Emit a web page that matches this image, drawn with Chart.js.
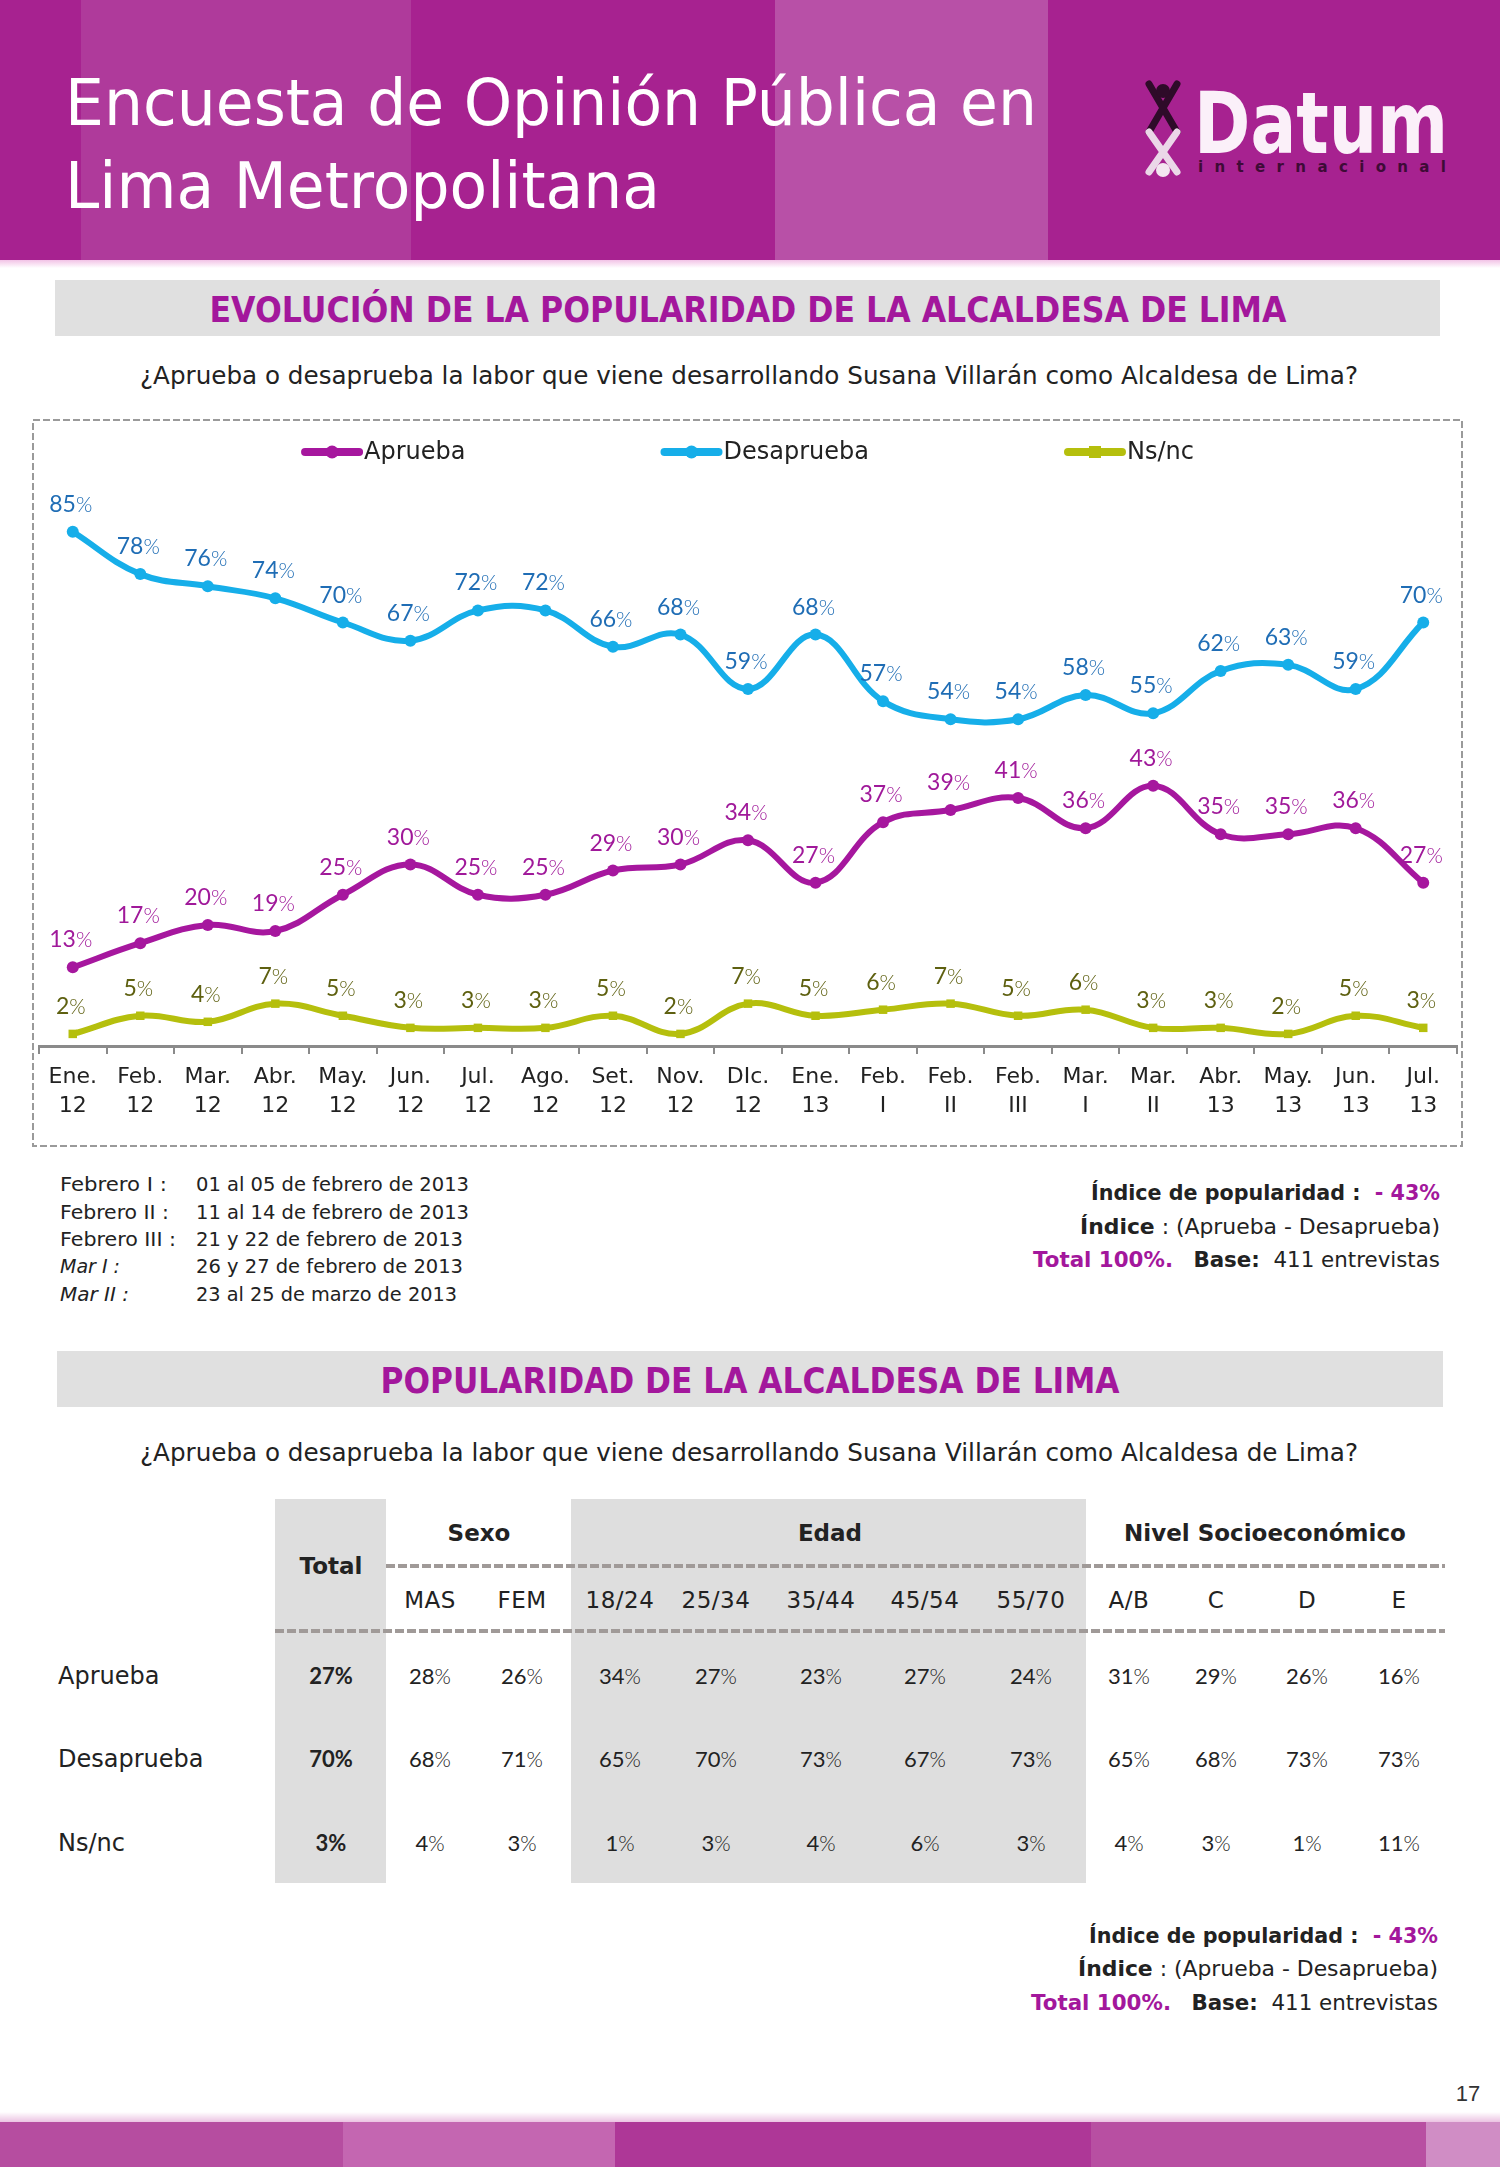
<!DOCTYPE html>
<html><head><meta charset="utf-8">
<script src="https://cdn.jsdelivr.net/npm/chart.js@4.4.1/dist/chart.umd.min.js"></script>
<style>
html,body{margin:0;padding:0;background:#fff;}
#page{position:relative;width:1500px;height:2167px;overflow:hidden;background:#fff;}
#deco{position:absolute;left:0;top:0;}
#chart{position:absolute;left:32px;top:419px;}
svg text{white-space:pre;}
</style></head><body>
<div id="page">
<svg id="deco" width="1500" height="2167" xmlns="http://www.w3.org/2000/svg" font-family="DejaVu Sans">
  <defs>
    <linearGradient id="hfade" x1="0" y1="0" x2="0" y2="1">
      <stop offset="0" stop-color="#F2C3E6"/><stop offset="1" stop-color="#FFFFFF"/>
    </linearGradient>
    <linearGradient id="bfade" x1="0" y1="0" x2="0" y2="1">
      <stop offset="0" stop-color="#FFFFFF"/><stop offset="1" stop-color="#EBC3E2"/>
    </linearGradient>
  </defs>
  <!-- header -->
  <rect x="0" y="0" width="1500" height="260" fill="#A72290"/>
  <rect x="81" y="0" width="330" height="260" fill="#AF3A9B"/>
  <rect x="775" y="0" width="273" height="260" fill="#B850A7"/>
  <rect x="0" y="260" width="1500" height="8" fill="url(#hfade)"/>
  <text x="65" y="125" font-size="64" fill="#FFFFFF" textLength="972" lengthAdjust="spacingAndGlyphs">Encuesta de Opinión Pública en</text>
  <text x="65" y="208" font-size="64" fill="#FFFFFF" textLength="595" lengthAdjust="spacingAndGlyphs">Lima Metropolitana</text>
  <!-- logo -->
  <g>
    <path d="M1149,84 Q1163,108 1177,132 M1177,84 Q1163,108 1149,132" stroke="#2E0B29" stroke-width="7" fill="none" stroke-linecap="round"/>
    <circle cx="1163" cy="91" r="7" fill="#2E0B29"/>
    <path d="M1149,132 Q1163,152 1177,172 M1177,132 Q1163,152 1149,172" stroke="#EBD7E8" stroke-width="7" fill="none" stroke-linecap="round"/>
    <circle cx="1163" cy="170" r="7" fill="#F3E6F0"/>
    <text x="1194" y="153" font-size="86" font-weight="bold" fill="#FBF0F9" textLength="254" lengthAdjust="spacingAndGlyphs">Datum</text>
    <text x="1198" y="172" font-size="15" font-weight="bold" fill="#3E0B36" textLength="248" lengthAdjust="spacing">internacional</text>
  </g>

  <!-- section 1 -->
  <rect x="55" y="280" width="1385" height="56" fill="#E0E0E0"/>
  <text x="748" y="322" text-anchor="middle" font-size="35" font-weight="bold" fill="#A3179C" textLength="1077" lengthAdjust="spacingAndGlyphs">EVOLUCIÓN DE LA POPULARIDAD DE LA ALCALDESA DE LIMA</text>
  <text x="749" y="384" text-anchor="middle" font-size="25" fill="#222222" textLength="1218" lengthAdjust="spacingAndGlyphs">¿Aprueba o desaprueba la labor que viene desarrollando Susana Villarán como Alcaldesa de Lima?</text>

  <!-- chart box -->
  <rect x="33" y="420" width="1429" height="726" fill="none" stroke="#9A9A9A" stroke-width="2" stroke-dasharray="7 3"/>

  <!-- footnotes -->
  <g font-size="20" fill="#222222">
    <text x="60" y="1191" textLength="107" lengthAdjust="spacingAndGlyphs">Febrero I :</text><text x="196" y="1191" textLength="273" lengthAdjust="spacingAndGlyphs">01 al 05 de febrero de 2013</text>
    <text x="60" y="1219" textLength="109" lengthAdjust="spacingAndGlyphs">Febrero II :</text><text x="196" y="1219" textLength="273" lengthAdjust="spacingAndGlyphs">11 al 14 de febrero de 2013</text>
    <text x="60" y="1246" textLength="116" lengthAdjust="spacingAndGlyphs">Febrero III :</text><text x="196" y="1246" textLength="267" lengthAdjust="spacingAndGlyphs">21 y 22 de febrero de 2013</text>
    <text x="60" y="1273" font-style="italic" textLength="60" lengthAdjust="spacingAndGlyphs">Mar I :</text><text x="196" y="1273" textLength="267" lengthAdjust="spacingAndGlyphs">26 y 27 de febrero de 2013</text>
    <text x="60" y="1301" font-style="italic" textLength="69" lengthAdjust="spacingAndGlyphs">Mar II :</text><text x="196" y="1301" textLength="261" lengthAdjust="spacingAndGlyphs">23 al 25 de marzo de 2013</text>
  </g>
  <g font-size="21" fill="#222222" text-anchor="end">
    <text x="1440" y="1200" textLength="349" lengthAdjust="spacingAndGlyphs"><tspan font-weight="bold">Índice de popularidad :  </tspan><tspan font-weight="bold" fill="#A3179C">- 43%</tspan></text>
    <text x="1440" y="1234" textLength="360" lengthAdjust="spacingAndGlyphs"><tspan font-weight="bold">Índice</tspan> : (Aprueba - Desaprueba)</text>
    <text x="1440" y="1267" textLength="407" lengthAdjust="spacingAndGlyphs"><tspan font-weight="bold" fill="#A3179C">Total 100%.</tspan>   <tspan font-weight="bold">Base:</tspan>  411 entrevistas</text>
  </g>

  <!-- section 2 -->
  <rect x="57" y="1351" width="1386" height="56" fill="#E0E0E0"/>
  <text x="750" y="1393" text-anchor="middle" font-size="35" font-weight="bold" fill="#A3179C" textLength="739" lengthAdjust="spacingAndGlyphs">POPULARIDAD DE LA ALCALDESA DE LIMA</text>
  <text x="749" y="1461" text-anchor="middle" font-size="25" fill="#222222" textLength="1218" lengthAdjust="spacingAndGlyphs">¿Aprueba o desaprueba la labor que viene desarrollando Susana Villarán como Alcaldesa de Lima?</text>

  <!-- table backgrounds -->
  <rect x="275" y="1499" width="111" height="384" fill="#DEDEDE"/>
  <rect x="571" y="1499" width="515" height="384" fill="#DEDEDE"/>
  <line x1="386" y1="1566" x2="1445" y2="1566" stroke="#A09A98" stroke-width="4" stroke-dasharray="9 3"/>
  <line x1="275" y1="1631" x2="1445" y2="1631" stroke="#A09A98" stroke-width="4" stroke-dasharray="9 3"/>
  <g id="table"></g>

  <g font-size="21" fill="#222222" text-anchor="end">
    <text x="1438" y="1943" textLength="349" lengthAdjust="spacingAndGlyphs"><tspan font-weight="bold">Índice de popularidad :  </tspan><tspan font-weight="bold" fill="#A3179C">- 43%</tspan></text>
    <text x="1438" y="1976" textLength="360" lengthAdjust="spacingAndGlyphs"><tspan font-weight="bold">Índice</tspan> : (Aprueba - Desaprueba)</text>
    <text x="1438" y="2010" textLength="407" lengthAdjust="spacingAndGlyphs"><tspan font-weight="bold" fill="#A3179C">Total 100%.</tspan>   <tspan font-weight="bold">Base:</tspan>  411 entrevistas</text>
  </g>

  <text x="1468" y="2101" text-anchor="middle" font-family="Liberation Sans" font-size="22" fill="#333333">17</text>

  <!-- bottom band -->
  <rect x="0" y="2112" width="1500" height="10" fill="url(#bfade)"/>
  <rect x="0" y="2122" width="343" height="45" fill="#B64DA0"/>
  <rect x="343" y="2122" width="272" height="45" fill="#C466B1"/>
  <rect x="615" y="2122" width="476" height="45" fill="#AE3797"/>
  <rect x="1091" y="2122" width="335" height="45" fill="#B84FA2"/>
  <rect x="1426" y="2122" width="74" height="45" fill="#D08DC5"/>
</svg>
<canvas id="chart" width="1431" height="727"></canvas>
</div>
<script>
// ---------- chart data ----------
const categories = [['Ene.','12'],['Feb.','12'],['Mar.','12'],['Abr.','12'],['May.','12'],['Jun.','12'],['Jul.','12'],['Ago.','12'],['Set.','12'],['Nov.','12'],['DIc.','12'],['Ene.','13'],['Feb.','I'],['Feb.','II'],['Feb.','III'],['Mar.','I'],['Mar.','II'],['Abr.','13'],['May.','13'],['Jun.','13'],['Jul.','13']];
const seriesNames = ['Aprueba','Desaprueba','Ns/nc'];
const aprueba    = [13,17,20,19,25,30,25,25,29,30,34,27,37,39,41,36,43,35,35,36,27];
const desaprueba = [85,78,76,74,70,67,72,72,66,68,59,68,57,54,54,58,55,62,63,59,70];
const nsnc       = [2,5,4,7,5,3,3,3,5,2,7,5,6,7,5,6,3,3,2,5,3];

// ---------- table data ----------
const tableGroups = ['Sexo','Edad','Nivel Socioeconómico'];
const tableColumns = ['MAS','FEM','18/24','25/34','35/44','45/54','55/70','A/B','C','D','E'];
const tableRows = ['Aprueba','Desaprueba','Ns/nc'];
const tableTotal = [27,70,3];
const tableAprueba = [28,26,34,27,23,27,24,31,29,26,16];
const tableDesaprueba = [68,71,65,70,73,67,73,65,68,73,73];
const tableNsnc = [4,3,1,3,4,6,3,4,3,1,11];

// ---------- table drawing ----------
const NS = 'http://www.w3.org/2000/svg';
const tbl = document.getElementById('table');
function mk(tag, attrs, text){ const e=document.createElementNS(NS,tag); for(const k in attrs) e.setAttribute(k,attrs[k]); if(text!==undefined) e.textContent=text; return e; }
const colX = [430,522,620,716,821,925,1031,1129,1216,1307,1399];
const groupX = [479,830,1265];
const rowY = [1684,1767,1851];
tableGroups.forEach((g,i)=>tbl.appendChild(mk('text',{x:groupX[i],y:1541,'text-anchor':'middle','font-size':23,'font-weight':'bold',fill:'#222'},g)));
tbl.appendChild(mk('text',{x:331,y:1574,'text-anchor':'middle','font-size':23,'font-weight':'bold',fill:'#222'},'Total'));
tableColumns.forEach((c,i)=>tbl.appendChild(mk('text',{x:colX[i],y:1608,'text-anchor':'middle','font-size':23,'letter-spacing':'0.5',fill:'#222'},c)));
const rowValues = [tableAprueba, tableDesaprueba, tableNsnc];
function pct(x,y,v,bold){
  const t = mk('text',{x:x,y:y,'text-anchor':'middle','font-family':'Lato','font-size':22,fill:'#222','font-weight':bold?'bold':'normal'});
  t.appendChild(mk('tspan',{},String(v)));
  t.appendChild(mk('tspan',{'font-weight':bold?'bold':'300','font-size':bold?22:21},'%'));
  tbl.appendChild(t);
}
tableRows.forEach((r,ri)=>{
  tbl.appendChild(mk('text',{x:58,y:rowY[ri],'font-size':24,fill:'#222'},r));
  pct(331,rowY[ri],tableTotal[ri],true);
  rowValues[ri].forEach((v,ci)=>pct(colX[ci],rowY[ri],v,false));
});

// ---------- chart ----------
const legendPlugin = {
  id:'topLegend',
  afterDraw(chart){
    const ctx = chart.ctx; ctx.save();
    ctx.font = '24px "DejaVu Sans"';
    const items = chart.data.datasets.map(ds=>({text:ds.label,color:ds.borderColor,style:ds.pointStyle,w:62+ctx.measureText(ds.label).width}));
    const gap = 196;
    const total = items.reduce((a,it)=>a+it.w,0)+gap*(items.length-1);
    let x = (chart.chartArea.left+chart.chartArea.right)/2 - total/2;
    const y = 33;
    items.forEach(it=>{
      ctx.strokeStyle = it.color; ctx.lineWidth = 8; ctx.lineCap='round';
      ctx.beginPath(); ctx.moveTo(x+3,y); ctx.lineTo(x+57,y); ctx.stroke();
      ctx.fillStyle = it.color;
      if(it.style==='rect'){ ctx.fillRect(x+24,y-6,12,12); }
      else { ctx.beginPath(); ctx.arc(x+30,y,6.5,0,Math.PI*2); ctx.fill(); }
      ctx.fillStyle = '#222'; ctx.textBaseline='middle'; ctx.textAlign='left';
      ctx.fillText(it.text, x+62, y+1);
      x += it.w + gap;
    });
    ctx.restore();
  }
};
const labelPlugin = {
  id:'valueLabels',
  afterDatasetsDraw(chart){
    const ctx = chart.ctx;
    chart.data.datasets.forEach((ds,i)=>{
      const meta = chart.getDatasetMeta(i);
      meta.data.forEach((pt,j)=>{
        const num = String(ds.data[j]);
        ctx.save();
        ctx.font = '23px Lato';
        const w1 = ctx.measureText(num).width;
        ctx.font = '300 21px Lato';
        const w2 = ctx.measureText('%').width;
        const x0 = pt.x - (w1+w2)/2 - 2;
        const yb = pt.y - 20;
        ctx.fillStyle = ds.labelColor;
        ctx.textBaseline = 'alphabetic'; ctx.textAlign='left';
        ctx.font = '23px Lato';
        ctx.fillText(num, x0, yb);
        ctx.font = '300 21px Lato';
        ctx.fillText('%', x0+w1, yb);
        ctx.restore();
      });
    });
  }
};

new Chart(document.getElementById('chart'), {
  type:'line',
  data:{
    labels: categories,
    datasets:[
      {label:seriesNames[0], data:aprueba, borderColor:'#A6179E', backgroundColor:'#A6179E', labelColor:'#A0199A', pointStyle:'circle'},
      {label:seriesNames[1], data:desaprueba, borderColor:'#16AEE9', backgroundColor:'#16AEE9', labelColor:'#1F6DB5', pointStyle:'circle'},
      {label:seriesNames[2], data:nsnc, borderColor:'#B5BF0D', backgroundColor:'#B5BF0D', labelColor:'#5E6010', pointStyle:'rect'}
    ]
  },
  options:{
    responsive:false, animation:false, devicePixelRatio:1,
    layout:{padding:{left:7,right:5,top:22,bottom:0}},
    elements:{
      line:{borderWidth:6, tension:0.4, fill:false},
      point:{radius:6, borderWidth:0, hoverRadius:6}
    },
    scales:{
      x:{
        offset:true,
        grid:{offset:true, drawOnChartArea:false, drawTicks:true, tickLength:8, color:'#8a8a8a', lineWidth:2},
        border:{display:true, color:'#8a8a8a', width:3},
        ticks:{color:'#222', font:{family:'DejaVu Sans', size:22, lineHeight:1.3}, padding:9, maxRotation:0, autoSkip:false},
        afterFit(s){ s.height = 100; }
      },
      y:{display:false, min:0, max:100}
    },
    plugins:{legend:{display:false}, tooltip:{enabled:false}}
  },
  plugins:[legendPlugin, labelPlugin]
});
</script>
</body></html>
